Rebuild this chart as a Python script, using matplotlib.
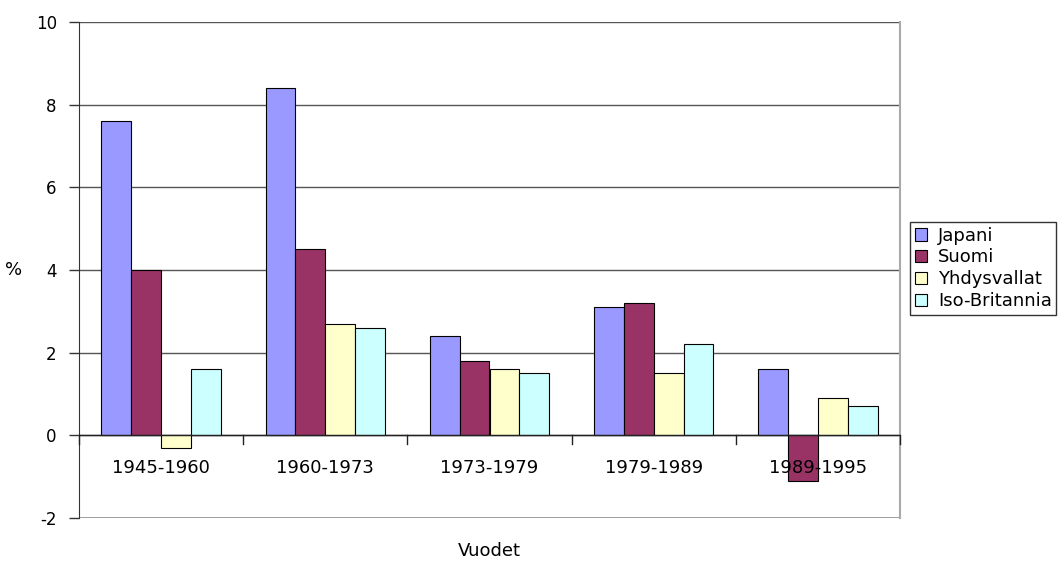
import numpy as np
import matplotlib.pyplot as plt

periods = ['1945-1960', '1960-1973', '1973-1979', '1979-1989', '1989-1995']
countries = ['Japani', 'Suomi', 'Yhdysvallat', 'Iso-Britannia']
japani = [7.6, 8.4, 2.4, 3.1, 1.6]
suomi = [4.0, 4.5, 1.8, 3.2, -1.1]
yhdysvallat = [-0.3, 2.7, 1.6, 1.5, 0.9]
iso_britannia = [1.6, 2.6, 1.5, 2.2, 0.7]
yticks = [-2, 0, 2, 4, 6, 8, 10]

series = [japani, suomi, yhdysvallat, iso_britannia]
colors = ['#9999FF', '#993366', '#FFFFCC', '#CCFFFF']

plt.rc('font', family='DejaVu Sans', size=12)
plt.rc('axes', unicode_minus=False)
fig = plt.figure(figsize=(10.6, 5.61), dpi=100)
ax = fig.add_axes([79 / 1060, 43 / 561, 821 / 1060, 496 / 561])

x = np.arange(len(periods)) + 0.5
w = 0.182
for k in range(len(series)):
    ax.bar(x + (k - 1.5) * w, series[k], width=w, color=colors[k],
           edgecolor='black', linewidth=0.8, label=countries[k], zorder=3)

ax.set_xlim(0, len(periods))
ax.set_ylim(-2, 10)
ax.set_yticks(yticks)
ax.yaxis.grid(True, color='#555555', linewidth=1, zorder=0)
ax.tick_params(axis='y', length=7, width=1, pad=9, direction='out', color='#333333')

# category axis sits at zero
ax.spines['bottom'].set_visible(False)
ax.axhline(0, color='#222222', linewidth=1, zorder=4)
ax.set_xticks([])
for b in range(len(periods) + 1):
    ax.plot([b, b], [0, -0.2], color='#222222', linewidth=1, zorder=4, clip_on=False)
for i in range(len(periods)):
    ax.annotate(periods[i], (x[i], 0), xytext=(0, -17), textcoords='offset points',
                ha='center', va='top', fontsize=13)

ax.spines['left'].set_color('#333333')
ax.spines['top'].set_visible(False)
ax.spines['right'].set_color('#aaaaaa')
ax.spines['right'].set_linewidth(1.5)
ax.axhline(-2, color='#aaaaaa', linewidth=2, zorder=1)

fig.text(14 / 1060, 1 - 270 / 561, '%', ha='center', va='center', fontsize=13)
fig.text(489.5 / 1060, 1 - 551 / 561, 'Vuodet', ha='center', va='center', fontsize=13)

leg = ax.legend(loc='upper left', bbox_to_anchor=(910 / 1060, 1 - 222 / 561),
                bbox_transform=fig.transFigure, frameon=True, fancybox=False,
                handlelength=0.7, handleheight=0.7, handletextpad=0.6,
                borderaxespad=0, borderpad=0.25, labelspacing=0.22, fontsize=13)
leg.get_frame().set_edgecolor('black')
leg.get_frame().set_linewidth(1)

fig.savefig('out.png', dpi=100)
